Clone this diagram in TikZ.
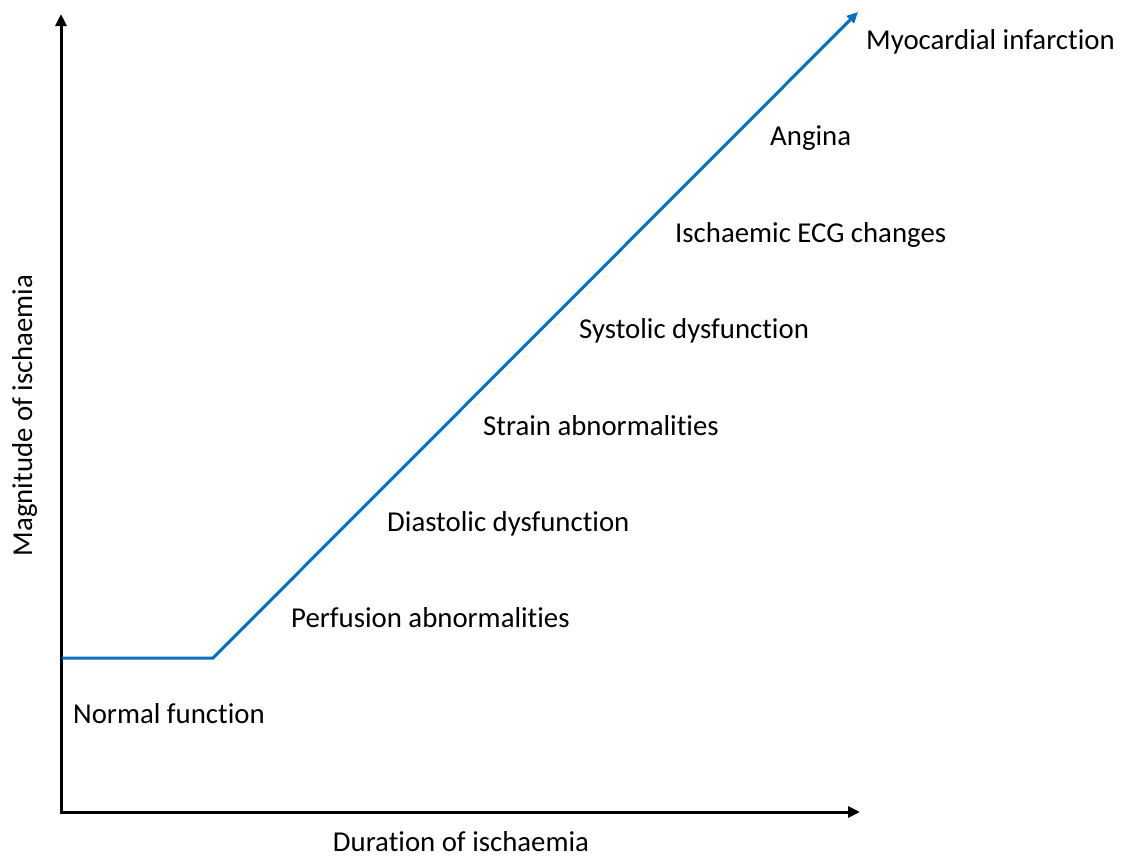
\documentclass[tikz,border=0pt]{standalone}
\usepackage{fontspec}
\setmainfont{Carlito}[Ligatures=NoCommon]
\usetikzlibrary{arrows.meta}
\definecolor{lineblue}{HTML}{0070C0}
\begin{document}
\begin{tikzpicture}[x=1pt,y=-1pt,
  axis/.style={line width=3pt,black,-{Triangle[length=12pt,width=11pt]}},
  curve/.style={line width=3pt,lineblue,line join=miter,-{Triangle[length=11pt,width=10pt]}},
  lbl/.style={anchor=base west,inner sep=0pt,font=\fontsize{28.8}{34}\selectfont},
  axlbl/.style={inner sep=0pt,font=\fontsize{28.8}{34}\selectfont}]
\useasboundingbox (0,0) rectangle (1128,855);
% axes
\coordinate (origin) at (61,812);
\coordinate (ytop) at (61,14);
\coordinate (xend) at (860,812);
\draw[axis] ([yshift=1.5pt]origin) -- (ytop);
\draw[axis] ([xshift=-1.5pt]origin) -- (xend);
% ischaemic cascade line
\coordinate (start) at (62,658);
\coordinate (knee) at (213,658);
\coordinate (tip) at (858,12);
\draw[curve] (start) -- (knee) -- (tip);
% axis titles
\node[axlbl,anchor=base,text depth=0pt] (xlab) at (461,851.5) {Duration of ischaemia};
\node[axlbl,anchor=base,rotate=90] (ylab) at (32,415.5) {Magnitude of ischaemia};
% stages
\node[lbl] (mi)   at (866,49.5)  {Myocardial infarction};
\node[lbl] (ang)  at (770,145.9) {Angina};
\node[lbl] (ecg)  at (675,242.3) {Ischaemic ECG changes};
\node[lbl] (sys)  at (579,338.7) {Systolic dysfunction};
\node[lbl] (str)  at (483,435.1) {Strain abnormalities};
\node[lbl] (dia)  at (387,531.5) {Diastolic dysfunction};
\node[lbl] (perf) at (291,627.9) {Perfusion abnormalities};
\node[lbl] (norm) at (73,723.5)  {Normal function};
\end{tikzpicture}
\end{document}
